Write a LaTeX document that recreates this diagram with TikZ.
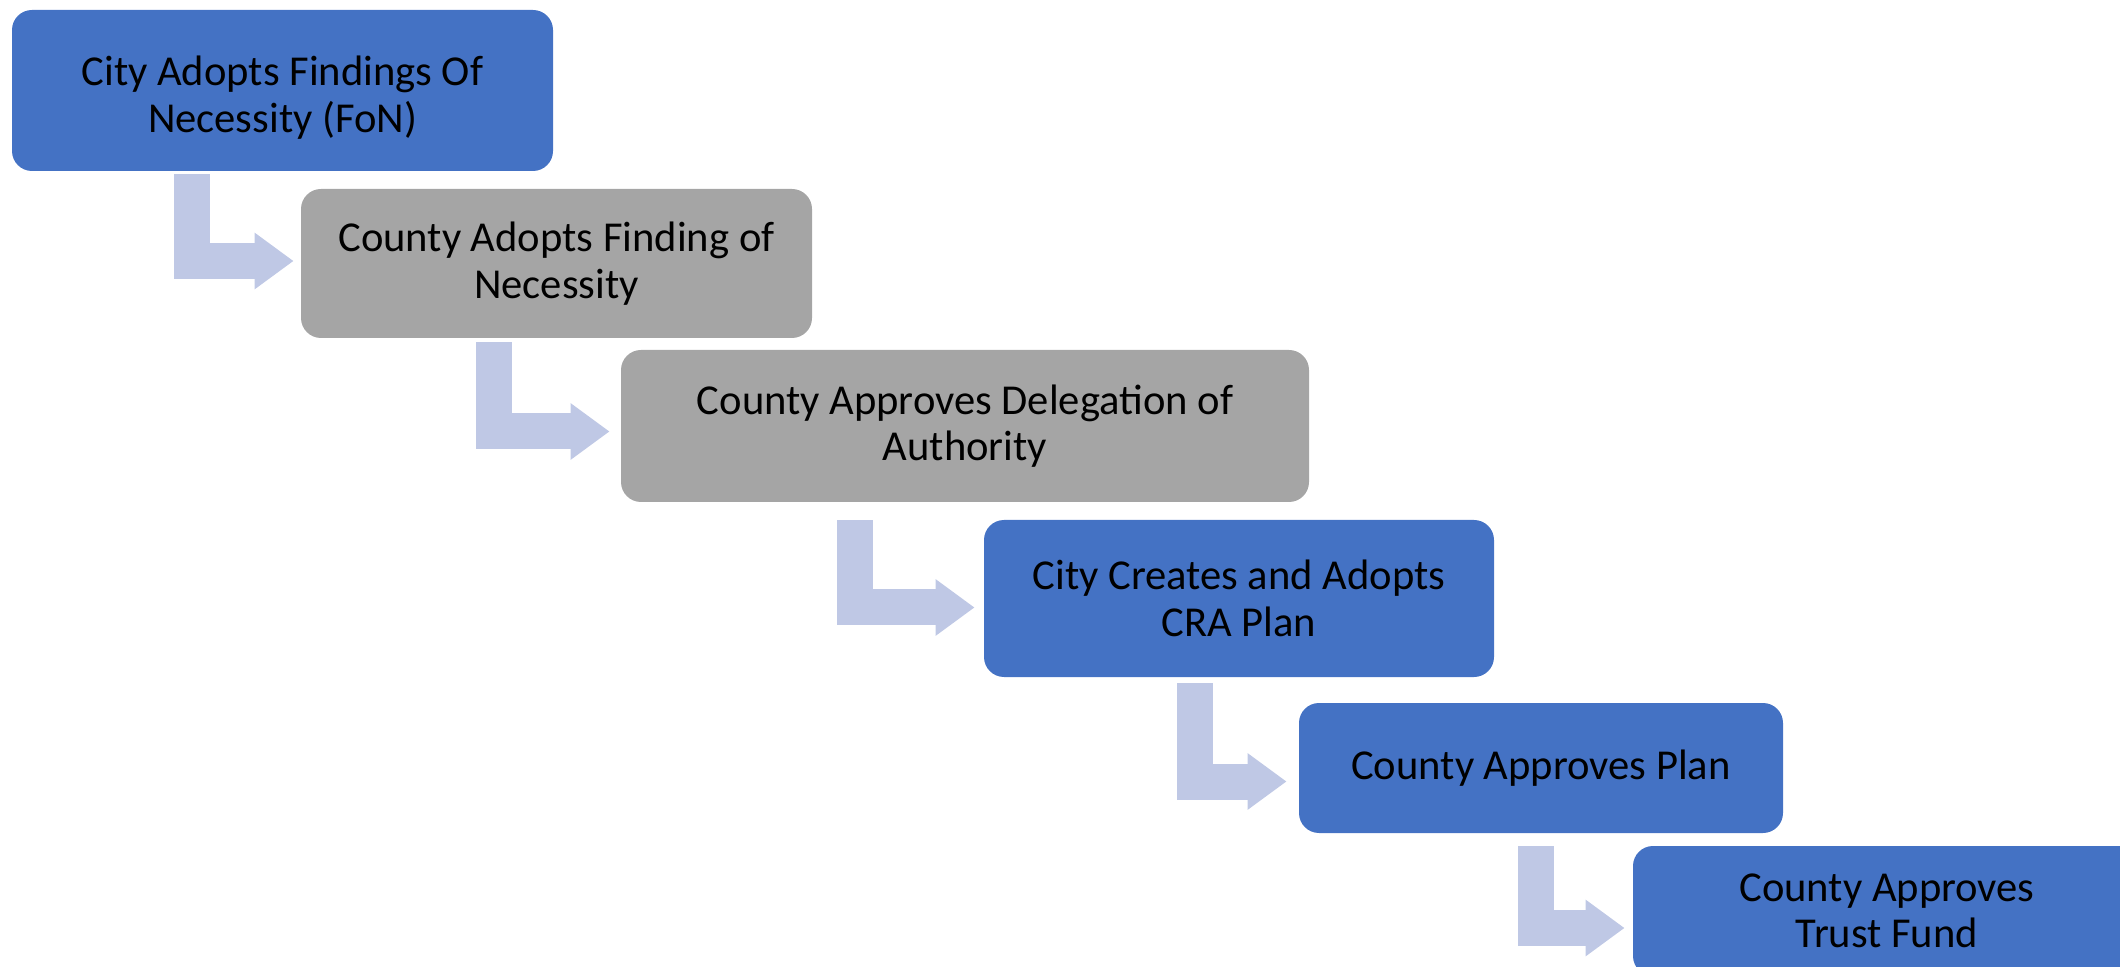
\documentclass[tikz,border=0pt]{standalone}
\usepackage{fontspec}
\setmainfont{Carlito}
\usepackage{tikz}
\usetikzlibrary{arrows.meta,calc}
\usepackage{xcolor}
\definecolor{stepblue}{HTML}{4472C4}
\definecolor{stepgray}{HTML}{A5A5A5}
\definecolor{flowblue}{HTML}{BFC8E5}

\begin{document}
\begin{tikzpicture}[x=0.5pt,y=-0.5pt,
  stepbox/.style={rounded corners=10pt,inner sep=0pt,align=center,text=black,
    font=\fontsize{21.3}{23.3}\selectfont},
  flow/.style={draw=flowblue,line width=18pt,-{Triangle[length=19.5pt,width=27pt]}}]
\useasboundingbox (0,0) rectangle (2120,967);
%%%STEPS
\node[stepbox,fill=stepblue,minimum width=270.5pt,minimum height=80.5pt] (b1) at (282.5,90.5)
  {\rule{0pt}{22pt}City Adopts Findings Of\\Necessity (FoN)};
\node[stepbox,fill=stepgray,minimum width=255.5pt,minimum height=74.5pt] (b2) at (556.5,263.5)
  {County Adopts Finding of\\Necessity};
\node[stepbox,fill=stepgray,minimum width=344pt,minimum height=76pt] (b3) at (965,426)
  {County Approves Delegation of\\Authority};
\node[stepbox,fill=stepblue,minimum width=255pt,minimum height=78.5pt] (b4) at (1239,598.5)
  {City Creates and Adopts\\CRA Plan};
\node[stepbox,fill=stepblue,minimum width=242pt,minimum height=65pt] (b5) at (1541,768)
  {County Approves Plan};
\node[stepbox,fill=stepblue,minimum width=254pt,minimum height=65pt] (b6) at (1887,911)
  {County Approves\\Trust Fund};
%%%BENT ARROWS
\draw[flow] ($(b1.south west)+(180.5,3)$) |- ($(b2.west)+(-7,-2.5)$);
\draw[flow] ($(b2.south west)+(193.5,4)$) |- ($(b3.west)+(-11,5.5)$);
\draw[flow] ($(b3.south west)+(234,18)$) |- ($(b4.west)+(-9,9)$);
\draw[flow] ($(b4.south west)+(211,6)$) |- ($(b5.west)+(-12,13.5)$);
\draw[flow] ($(b5.south west)+(237,13)$) |- ($(b6.west)+(-8,17)$);
\end{tikzpicture}
\end{document}
